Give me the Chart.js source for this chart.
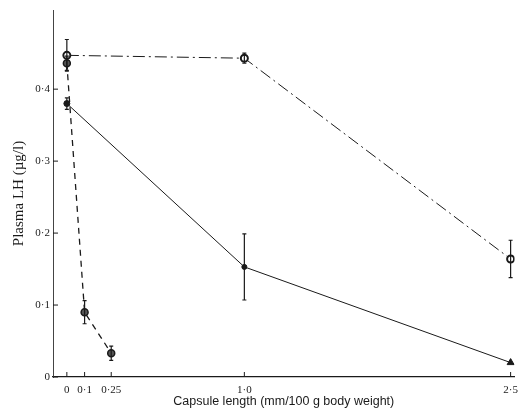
<!DOCTYPE html>
<html lang="en">
<head>
    <meta charset="UTF-8">
    <title>Plasma LH vs capsule length</title>
    <script src="https://cdn.jsdelivr.net/npm/chart.js"></script>
    <style>
        body { margin: 0; background: #fff; }
        .chart-container { position: relative; width: 525px; height: 415px; }
    </style>
</head>
<body>
    <div class="chart-container">
        <canvas id="lhChart"></canvas>
    </div>

    <script>
        // x positions (capsule length) and plasma LH values
        const xTickValues = [0, 0.1, 0.25, 1.0, 2.5];
        const xTickLabels = ['0', '0·1', '0·25', '1·0', '2·5'];
        const yTickLabels = ['0', '0·1', '0·2', '0·3', '0·4'];

        const openX = [0, 1.0, 2.5];
        const openY = [0.447, 0.443, 0.164];
        const openErr = [0.022, 0.007, 0.026];

        const dashX = [0, 0.1, 0.25];
        const dashY = [0.436, 0.090, 0.033];
        const dashErr = [0.010, 0.016, 0.010];

        const solidX = [0, 1.0, 2.5];
        const solidY = [0.380, 0.153, 0.020];
        const solidErr = [0.008, 0.046, 0];

        const ink = '#1a1a1a';
        const serif = "'Liberation Serif', 'DejaVu Serif', serif";
        const sans = "'Liberation Sans', 'DejaVu Sans', sans-serif";

        function toPoints(xs, ys) {
            return xs.map((x, i) => ({ x: x, y: ys[i] }));
        }

        // draws the vertical error bars using the chart scales
        const errorBars = {
            id: 'errorBars',
            afterDatasetsDraw(chart) {
                const ctx = chart.ctx;
                const xs = chart.scales.x, ys = chart.scales.y;
                ctx.save();
                ctx.strokeStyle = ink;
                ctx.lineWidth = 1.2;
                chart.data.datasets.forEach(ds => {
                    ds.data.forEach((p, i) => {
                        const e = ds.errors[i];
                        if (!e) return;
                        const px = xs.getPixelForValue(p.x);
                        const top = ys.getPixelForValue(p.y + e);
                        const bot = ys.getPixelForValue(p.y - e);
                        ctx.beginPath();
                        ctx.moveTo(px, top); ctx.lineTo(px, bot);
                        ctx.moveTo(px - 2, top); ctx.lineTo(px + 2, top);
                        ctx.moveTo(px - 2, bot); ctx.lineTo(px + 2, bot);
                        ctx.stroke();
                    });
                });
                ctx.restore();
            }
        };

        // small inward tick marks on both axes
        const innerTicks = {
            id: 'innerTicks',
            afterDraw(chart) {
                const ctx = chart.ctx;
                const xs = chart.scales.x, ys = chart.scales.y;
                const area = chart.chartArea;
                ctx.save();
                ctx.strokeStyle = ink;
                ctx.lineWidth = 1;
                ctx.beginPath();
                ys.ticks.forEach(t => {
                    const py = ys.getPixelForValue(t.value);
                    ctx.moveTo(area.left, py); ctx.lineTo(area.left + 5, py);
                });
                xs.ticks.forEach(t => {
                    const px = xs.getPixelForValue(t.value);
                    ctx.moveTo(px, area.bottom); ctx.lineTo(px, area.bottom - 5);
                });
                ctx.stroke();
                ctx.restore();
            }
        };

        const ctx = document.getElementById('lhChart').getContext('2d');
        const lhChart = new Chart(ctx, {
            type: 'scatter',
            data: {
                datasets: [
                    {
                        data: toPoints(openX, openY),
                        errors: openErr,
                        showLine: true,
                        borderColor: ink,
                        borderWidth: 1,
                        borderDash: [12, 4, 2, 4],
                        pointStyle: 'circle',
                        pointRadius: 3.5,
                        pointBorderWidth: 2,
                        pointBackgroundColor: '#fff',
                        pointBorderColor: ink
                    },
                    {
                        data: toPoints(dashX, dashY),
                        errors: dashErr,
                        showLine: true,
                        borderColor: ink,
                        borderWidth: 1.3,
                        borderDash: [6, 5],
                        pointStyle: 'circle',
                        pointRadius: 3.5,
                        pointBorderWidth: 1.5,
                        pointBackgroundColor: '#555',
                        pointBorderColor: ink
                    },
                    {
                        data: toPoints(solidX, solidY),
                        errors: solidErr,
                        showLine: true,
                        borderColor: ink,
                        borderWidth: 1,
                        pointStyle: ['circle', 'circle', 'triangle'],
                        pointRadius: [3, 2.5, 4],
                        pointBorderWidth: 1,
                        pointBackgroundColor: ink,
                        pointBorderColor: ink
                    }
                ]
            },
            options: {
                responsive: true,
                maintainAspectRatio: false,
                animation: false,
                layout: { padding: { top: 10, right: 3, left: 0, bottom: 0 } },
                plugins: {
                    legend: { display: false },
                    tooltip: { enabled: false }
                },
                scales: {
                    x: {
                        type: 'linear',
                        min: -0.078,
                        max: 2.522,
                        afterBuildTicks(scale) {
                            scale.ticks = xTickValues.map(v => ({ value: v }));
                        },
                        afterFit(scale) { scale.height = 38; },
                        grid: { display: false, drawTicks: false },
                        border: { display: true, color: ink, width: 1.2 },
                        ticks: {
                            color: ink,
                            padding: 7,
                            maxRotation: 0,
                            autoSkip: false,
                            font: { family: serif, size: 11 },
                            callback: (v) => xTickLabels[xTickValues.indexOf(v)]
                        },
                        title: {
                            display: true,
                            text: 'Capsule length (mm/100 g body weight)',
                            color: ink,
                            padding: { top: 0, bottom: 6 },
                            font: { family: sans, size: 12.5 }
                        }
                    },
                    y: {
                        min: 0,
                        max: 0.51,
                        afterBuildTicks(scale) {
                            scale.ticks = yTickLabels.map((l, i) => ({ value: i / 10 }));
                        },
                        afterFit(scale) { scale.width = 53; },
                        grid: { display: false, drawTicks: false },
                        border: { display: true, color: '#444', width: 1, dash: [3, 1] },
                        ticks: {
                            color: ink,
                            padding: 3,
                            font: { family: serif, size: 11 },
                            callback: (v) => yTickLabels[Math.round(v * 10)]
                        },
                        title: {
                            display: true,
                            text: 'Plasma LH (µg/l)',
                            color: ink,
                            padding: { top: 10, bottom: 0 },
                            font: { family: serif, size: 15 }
                        }
                    }
                }
            },
            plugins: [errorBars, innerTicks]
        });
    </script>
</body>
</html>
